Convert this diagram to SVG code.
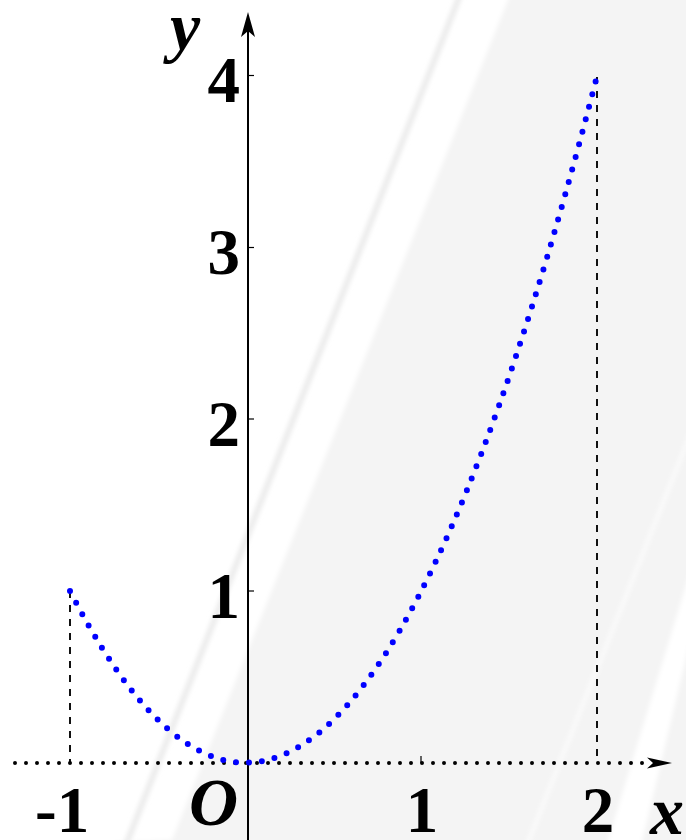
<svg xmlns="http://www.w3.org/2000/svg" width="686" height="840" viewBox="0 0 686 840">
  <style>
    .num { font-family: "Liberation Serif", "Times New Roman", serif; font-weight: bold; font-size: 65px; fill: #000; }
    .var { font-family: "Liberation Serif", "Times New Roman", serif; font-weight: bold; font-style: italic; font-size: 68px; fill: #000; }
    .axis { stroke: #000; stroke-width: 2; fill: none; }
    .tick { stroke: #000; stroke-width: 1.2; fill: none; }
    .dash { stroke: #111; stroke-width: 2; stroke-dasharray: 7 7; fill: none; }
    .dots { stroke: #000; stroke-width: 4; stroke-dasharray: 0 11; stroke-linecap: round; fill: none; }
    .curve { stroke: #0000ff; stroke-width: 6; stroke-dasharray: 0 13; stroke-linecap: round; fill: none; }
  </style>
  <defs>
    <filter id="soft" x="-0.2" y="-0.2" width="1.4" height="1.4">
      <feGaussianBlur stdDeviation="2"/>
    </filter>
  </defs>

  <g id="background">
    <rect x="0" y="0" width="686" height="840" fill="#f4f4f4"/>
    <polygon points="-10,-10 512,-10 172,840 -10,850" fill="#ffffff" filter="url(#soft)"/>
    <line x1="462" y1="-10" x2="124" y2="850" stroke="#ececec" stroke-width="6" filter="url(#soft)"/>
    <line x1="700" y1="410" x2="525" y2="850" stroke="#fbfbfb" stroke-width="4" filter="url(#soft)"/>
    <polygon points="700,540 700,600 640,850 605,850" fill="#ffffff" filter="url(#soft)"/>
  </g>

  <g id="guides">
    <line class="dash" x1="70" y1="591" x2="70" y2="762"/>
    <line class="dash" x1="597" y1="77" x2="597" y2="762"/>
  </g>

  <g id="axes">
    <line class="dots" x1="15" y1="763" x2="645" y2="763"/>
    <polygon points="672,763 647,757.5 653,763 647,768.5" fill="#000"/>
    <line class="axis" x1="248" y1="30" x2="248" y2="840"/>
    <polygon points="248,12 241,37 248,31 255,37" fill="#000"/>
    <line class="tick" x1="248" y1="75.5" x2="254" y2="75.5"/>
    <line class="tick" x1="248" y1="247.5" x2="254" y2="247.5"/>
    <line class="tick" x1="248" y1="419" x2="254" y2="419"/>
    <line class="tick" x1="248" y1="591" x2="254" y2="591"/>
    <line class="tick" x1="421" y1="763" x2="421" y2="756"/>
  </g>

  <g id="curve">
    <path class="curve" d="M70,591 Q333.4,1106 597,76"/>
  </g>

  <g id="labels">
    <text class="var" x="170" y="50">y</text>
    <text class="num" x="240" y="102" text-anchor="end">4</text>
    <text class="num" x="240" y="274" text-anchor="end">3</text>
    <text class="num" x="240" y="446" text-anchor="end">2</text>
    <text class="num" x="240" y="618" text-anchor="end">1</text>
    <text class="num" x="35" y="832">-1</text>
    <text class="var" x="189" y="825">O</text>
    <text class="num" x="422" y="832" text-anchor="middle">1</text>
    <text class="num" x="598" y="832" text-anchor="middle">2</text>
    <text class="var" x="650" y="834">x</text>
  </g>
</svg>
